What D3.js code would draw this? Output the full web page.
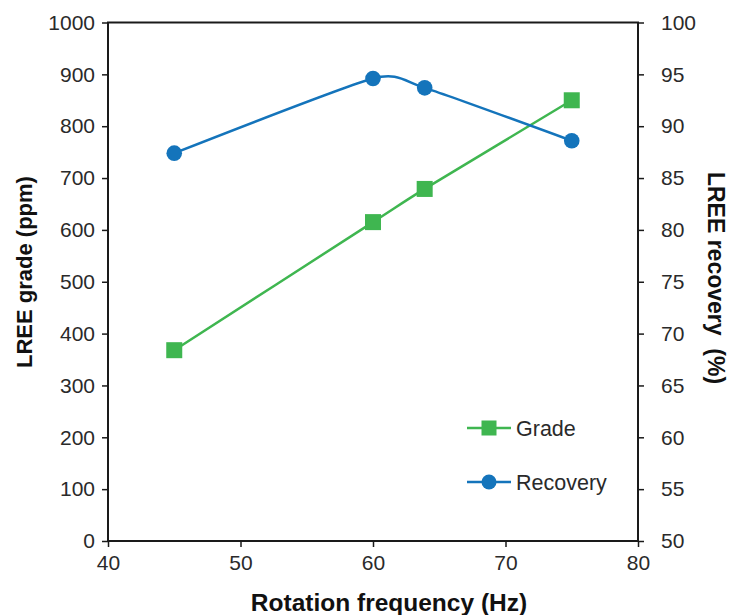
<!DOCTYPE html>
<html><head><meta charset="utf-8">
<script src="https://cdn.jsdelivr.net/npm/d3@7"></script>
<style>body{margin:0;background:#fff;font-family:"Liberation Sans",Arial,Helvetica,sans-serif}</style>
</head><body><svg id="c" width="729" height="615"></svg>
<script>
const frequency = [45, 60, 63.9, 75];
const grade = [368, 615, 679, 850];
const recovery = [87.4, 94.6, 93.7, 88.6];
const xTicks = [40, 50, 60, 70, 80];
const yLeftTicks = [0,100,200,300,400,500,600,700,800,900,1000];
const yRightTicks = [50,55,60,65,70,75,80,85,90,95,100];
const seriesNames = ["Grade", "Recovery"];

const svg = d3.select("#c");
const L = 108, R = 638, T = 22.5, B = 541;
const x = d3.scaleLinear().domain([40, 80]).range([L, R]);
const yL = d3.scaleLinear().domain([0, 1000]).range([B, T]);
const yR = d3.scaleLinear().domain([50, 100]).range([B, T]);
const green = "#3fb650", blue = "#1474bb", txt = "#2a2a2a";

svg.append("rect").attr("x", L).attr("y", T).attr("width", R - L).attr("height", B - T)
  .attr("fill", "none").attr("stroke", "#1a1a1a").attr("stroke-width", 2);

function styleAxis(g){
  g.select(".domain").remove();
  g.selectAll(".tick line").attr("stroke", "#1a1a1a").attr("stroke-width", 1.5);
  g.selectAll(".tick text").attr("fill", txt).style("font-size", "21px")
   .style("font-family", '"Liberation Sans",Arial,sans-serif');
}
const fmt = d3.format("d");
svg.append("g").attr("transform", `translate(0,${B})`)
  .call(d3.axisBottom(x).tickValues(xTicks).tickFormat(fmt).tickSize(6).tickPadding(8)).call(styleAxis);
svg.append("g").attr("transform", `translate(${L},0)`)
  .call(d3.axisLeft(yL).tickValues(yLeftTicks).tickFormat(fmt).tickSize(6).tickPadding(7)).call(styleAxis);
svg.append("g").attr("transform", `translate(${R},0)`)
  .call(d3.axisRight(yR).tickValues(yRightTicks).tickFormat(fmt).tickSize(6).tickPadding(17)).call(styleAxis);

const curve = d3.curveCardinal.tension(0.4);
const gradeData = frequency.map((f, i) => [f, grade[i]]);
const recData = frequency.map((f, i) => [f, recovery[i]]);

svg.append("path").datum(gradeData)
  .attr("d", d3.line().x(d => x(d[0])).y(d => yL(d[1])).curve(curve))
  .attr("fill", "none").attr("stroke", green).attr("stroke-width", 2.5);
svg.append("path").datum(recData)
  .attr("d", d3.line().x(d => x(d[0])).y(d => yR(d[1])).curve(curve))
  .attr("fill", "none").attr("stroke", blue).attr("stroke-width", 2.5);

const sq = 16;
svg.selectAll("rect.g").data(gradeData).enter().append("rect").attr("class", "g")
  .attr("x", d => x(d[0]) - sq/2).attr("y", d => yL(d[1]) - sq/2)
  .attr("width", sq).attr("height", sq).attr("fill", green);
svg.selectAll("circle.r").data(recData).enter().append("circle").attr("class", "r")
  .attr("cx", d => x(d[0])).attr("cy", d => yR(d[1])).attr("r", 7.8).attr("fill", blue);

const leg = [{n: seriesNames[0], c: green, y: 428, shape: "sq"}, {n: seriesNames[1], c: blue, y: 482, shape: "c"}];
leg.forEach(l => {
  svg.append("line").attr("x1", 467).attr("x2", 511).attr("y1", l.y).attr("y2", l.y)
    .attr("stroke", l.c).attr("stroke-width", 2.5);
  if (l.shape === "sq") svg.append("rect").attr("x", 489 - 7.5).attr("y", l.y - 7.5).attr("width", 15).attr("height", 15).attr("fill", l.c);
  else svg.append("circle").attr("cx", 489).attr("cy", l.y).attr("r", 7.5).attr("fill", l.c);
  svg.append("text").attr("x", 516).attr("y", l.y).attr("dy", "0.35em").attr("fill", txt)
    .style("font-size", "21.5px").text(l.n);
});

svg.append("text").attr("x", 389).attr("y", 611).attr("text-anchor", "middle")
  .style("font-size", "24.5px").style("font-weight", "bold").attr("fill", "#111").text("Rotation frequency (Hz)");
svg.append("text").attr("transform", `translate(32,272) rotate(-90)`).attr("text-anchor", "middle")
  .style("font-size", "22px").style("font-weight", "bold").attr("fill", "#111").text("LREE grade (ppm)");
svg.append("text").attr("transform", `translate(708,278) rotate(90)`).attr("text-anchor", "middle")
  .attr("xml:space", "preserve")
  .style("font-size", "23px").style("font-weight", "bold").attr("fill", "#111").text("LREE recovery\u00a0 (%)");
</script></body></html>
